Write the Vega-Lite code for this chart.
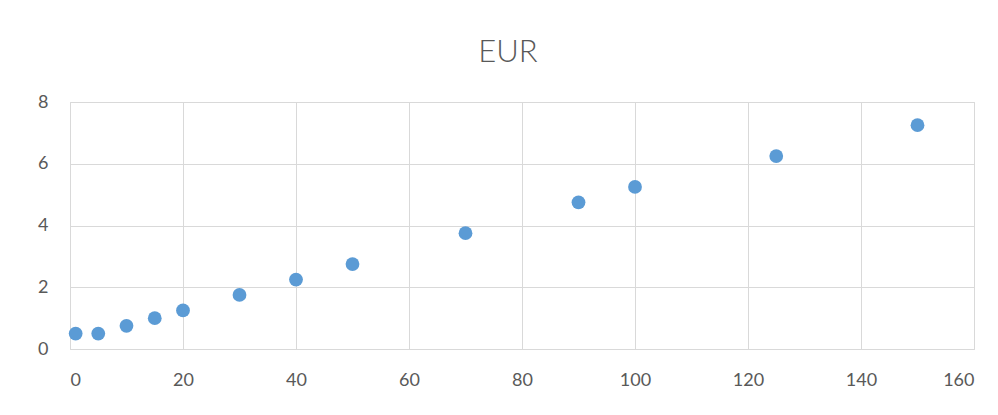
{
  "$schema": "https://vega.github.io/schema/vega-lite/v6.json",
  "width": 904,
  "height": 247,
  "autosize": {"type": "none"},
  "padding": {"left": 70, "top": 102, "right": 24, "bottom": 66},
  "background": "white",
  "title": {"text": "EUR", "font": "Lato", "fontSize": 31, "fontWeight": 300, "color": "#595959", "anchor": "middle", "dx": -14, "offset": 24},
  "config": {
    "view": {"stroke": "#d9d9d9", "strokeWidth": 1},
    "axis": {"labelFont": "Lato", "labelFontSize": 18, "labelColor": "#595959", "gridColor": "#d9d9d9", "gridWidth": 1, "ticks": false, "domain": false, "title": null}
  },
  "data": {"values": [
    {"x": 1, "y": 0.5}, {"x": 5, "y": 0.5}, {"x": 10, "y": 0.75}, {"x": 15, "y": 1.0},
    {"x": 20, "y": 1.25}, {"x": 30, "y": 1.75}, {"x": 40, "y": 2.25}, {"x": 50, "y": 2.75},
    {"x": 70, "y": 3.75}, {"x": 90, "y": 4.75}, {"x": 100, "y": 5.25}, {"x": 125, "y": 6.25},
    {"x": 150, "y": 7.25}
  ]},
  "mark": {"type": "circle", "size": 190, "color": "#5b9bd5", "opacity": 1},
  "encoding": {
    "x": {"field": "x", "type": "quantitative", "scale": {"domain": [0, 160], "nice": false}, "axis": {"values": [0,20,40,60,80,100,120,140,160], "labelPadding": 22}},
    "y": {"field": "y", "type": "quantitative", "scale": {"domain": [0, 8], "nice": false}, "axis": {"values": [0,2,4,6,8], "labelPadding": 22}}
  }
}
